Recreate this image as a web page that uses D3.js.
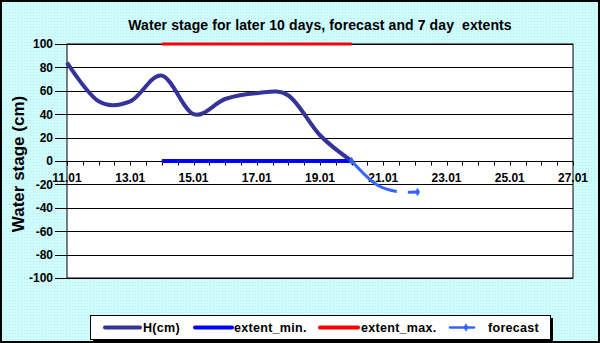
<!DOCTYPE html>
<meta charset="utf-8">
<html>
<head>
<style>
    html, body { margin: 0; padding: 0; background: #fff; }
    svg { display: block; font-family: Arial, "Liberation Sans", sans-serif; }
    .tick-label { font-size: 12px; font-weight: bold; fill: #000; }
    .legend text { font-size: 12.5px; font-weight: bold; fill: #000; letter-spacing: 0.3px; }
</style>
</head>
<body>
<svg width="600" height="343"></svg>
<script src="https://cdn.jsdelivr.net/npm/d3@7"></script>
<script>
// water stage, daily
var hDates = ["11.01", "12.01", "13.01", "14.01", "15.01", "16.01", "17.01", "18.01", "19.01", "20.01"];
var hValues = [84, 51, 51, 73, 40, 53, 58, 56, 22, 0];

// 7 day extents
var extentDates = ["14.01", "20.01"];
var extentMin = [0, 0];
var extentMax = [100, 100];

// forecast
var forecastDates = ["20.01 00:00", "20.01 20:00", "21.01 10:00", "22.01 02:00"];
var forecastValues = [0, -21, -26, -26.5];

var yTicks = [-100, -80, -60, -40, -20, 0, 20, 40, 60, 80, 100];
var xLabels = ["11.01", "13.01", "15.01", "17.01", "19.01", "21.01", "23.01", "25.01", "27.01"];

var parseDay = d3.timeParse("%d.%m");
var parseTime = d3.timeParse("%d.%m %H:%M");

var svg = d3.select("svg"),
    width = 600,
    height = 343;

var plot = {left: 67, right: 573, top: 44, bottom: 278};

// background with a faint dot texture
var defs = svg.append("defs");
var pat = defs.append("pattern")
    .attr("id", "dots")
    .attr("width", 3).attr("height", 3)
    .attr("patternUnits", "userSpaceOnUse");
pat.append("rect").attr("width", 3).attr("height", 3).attr("fill", "#cffcfc");
pat.append("rect").attr("width", 1).attr("height", 1).attr("fill", "#b8eaea");

svg.append("rect")
    .attr("x", 1).attr("y", 1)
    .attr("width", width - 2).attr("height", height - 2)
    .attr("fill", "url(#dots)")
    .attr("stroke", "#000")
    .attr("stroke-width", 2);

var x = d3.scaleTime()
    .domain([parseDay("11.01"), parseDay("27.01")])
    .range([plot.left, plot.right]);

var y = d3.scaleLinear()
    .domain([-100, 100])
    .range([plot.bottom, plot.top]);

// plot area
svg.append("rect")
    .attr("x", plot.left).attr("y", plot.top)
    .attr("width", plot.right - plot.left)
    .attr("height", plot.bottom - plot.top)
    .attr("fill", "#fff")
    .attr("stroke", "#000")
    .attr("stroke-width", 1);

// gridlines + y labels
var yAxis = svg.append("g");
yAxis.selectAll("line")
    .data(yTicks)
    .enter()
        .append("line")
        .attr("x1", plot.left - 12)
        .attr("x2", plot.right)
        .attr("y1", function (d) { return Math.round(y(d)) + 0.5; })
        .attr("y2", function (d) { return Math.round(y(d)) + 0.5; })
        .attr("stroke", "#000")
        .attr("stroke-width", 1.2);

yAxis.selectAll("text")
    .data(yTicks)
    .enter()
        .append("text")
        .attr("class", "tick-label")
        .attr("x", plot.left - 14)
        .attr("y", function (d) { return y(d); })
        .attr("dy", "0.36em")
        .attr("text-anchor", "end")
        .text(function (d) { return d; });

// x axis at zero, ticks every half day
var x0 = Math.round(y(0)) + 0.5;
var xTicks = d3.timeHour.every(12).range(parseDay("11.01"), d3.timeHour.offset(parseDay("27.01"), 1));
svg.append("g").selectAll("line")
    .data(xTicks)
    .enter()
        .append("line")
        .attr("x1", function (d) { return Math.round(x(d)) + 0.5; })
        .attr("x2", function (d) { return Math.round(x(d)) + 0.5; })
        .attr("y1", x0)
        .attr("y2", x0 + 4)
        .attr("stroke", "#000");

svg.append("g").selectAll("text")
    .data(xLabels)
    .enter()
        .append("text")
        .attr("class", "tick-label")
        .attr("x", function (d) { return x(parseDay(d)); })
        .attr("y", x0 + 20)
        .attr("text-anchor", "middle")
        .text(function (d) { return d; });

// extents
var straight = d3.line()
    .x(function (d) { return x(d.date); })
    .y(function (d) { return y(d.value); });

var maxData = extentDates.map(function (d, i) { return {date: parseDay(d), value: extentMax[i]}; });
var minData = extentDates.map(function (d, i) { return {date: parseDay(d), value: extentMin[i]}; });

svg.append("path")
    .datum(maxData)
    .attr("d", straight)
    .attr("fill", "none")
    .attr("stroke", "#ff0000")
    .attr("stroke-width", 3);

svg.append("path")
    .datum(minData)
    .attr("d", straight)
    .attr("fill", "none")
    .attr("stroke", "#0000ff")
    .attr("stroke-width", 4);

// H(cm)
var smooth = d3.line()
    .x(function (d) { return x(d.date); })
    .y(function (d) { return y(d.value); })
    .curve(d3.curveCardinal.tension(0));

var hData = hDates.map(function (d, i) { return {date: parseDay(d), value: hValues[i]}; });
svg.append("path")
    .datum(hData)
    .attr("d", smooth)
    .attr("fill", "none")
    .attr("stroke", "#333399")
    .attr("stroke-width", 4)
    .attr("stroke-linejoin", "round");

// forecast
var fcData = forecastDates.map(function (d, i) { return {date: parseTime(d), value: forecastValues[i]}; });
svg.append("path")
    .datum(fcData)
    .attr("d", d3.line()
        .x(function (d) { return x(d.date); })
        .y(function (d) { return y(d.value); })
        .curve(d3.curveCatmullRom.alpha(0.5)))
    .attr("fill", "none")
    .attr("stroke", "#3366ff")
    .attr("stroke-width", 3)
    .attr("stroke-dasharray", "56,11");

function diamond(sel) {
    sel.attr("d", d3.symbol().type(d3.symbolDiamond).size(22))
        .attr("fill", "#3366ff");
}
svg.append("g").selectAll("path")
    .data([fcData[0], fcData[fcData.length - 1]])
    .enter()
        .append("path")
        .attr("transform", function (d) { return "translate(" + x(d.date) + "," + y(d.value) + ")"; })
        .call(diamond);

// title
svg.append("text")
    .attr("x", 320)
    .attr("y", 30)
    .attr("text-anchor", "middle")
    .style("font-size", "14px")
    .style("font-weight", "bold")
    .style("letter-spacing", "0.1px")
    .style("white-space", "pre")
    .text("Water stage for later 10 days, forecast and 7 day  extents");

svg.append("text")
    .attr("transform", "translate(23.5,164) rotate(-90)")
    .attr("text-anchor", "middle")
    .style("font-size", "17px")
    .style("font-weight", "bold")
    .text("Water stage (cm)");

// legend
var legend = svg.append("g").attr("class", "legend");
legend.append("rect")
    .attr("x", 93).attr("y", 318)
    .attr("width", 460).attr("height", 24)
    .attr("fill", "#000");
legend.append("rect")
    .attr("x", 90.5).attr("y", 315.5)
    .attr("width", 460).attr("height", 24)
    .attr("fill", "#fff")
    .attr("stroke", "#000");

var legendItems = [
    {name: "H(cm)", color: "#333399", width: 4, x1: 105, x2: 140, tx: 143},
    {name: "extent_min.", color: "#0000ff", width: 4, x1: 195, x2: 232, tx: 234},
    {name: "extent_max.", color: "#ff0000", width: 4, x1: 320, x2: 358, tx: 361},
    {name: "forecast", color: "#3366ff", width: 2.5, x1: 450, x2: 474, tx: 488}
];
var items = legend.selectAll("g.item")
    .data(legendItems)
    .enter()
        .append("g")
        .attr("class", "item");
items.append("line")
    .attr("x1", function (d) { return d.x1; })
    .attr("x2", function (d) { return d.x2; })
    .attr("y1", 327.5).attr("y2", 327.5)
    .attr("stroke", function (d) { return d.color; })
    .attr("stroke-width", function (d) { return d.width; })
    .attr("stroke-linecap", "round");
items.append("text")
    .attr("x", function (d) { return d.tx; })
    .attr("y", 332)
    .text(function (d) { return d.name; });
legend.append("path")
    .attr("transform", "translate(466,327.5)")
    .call(diamond);
</script>
</body>
</html>
